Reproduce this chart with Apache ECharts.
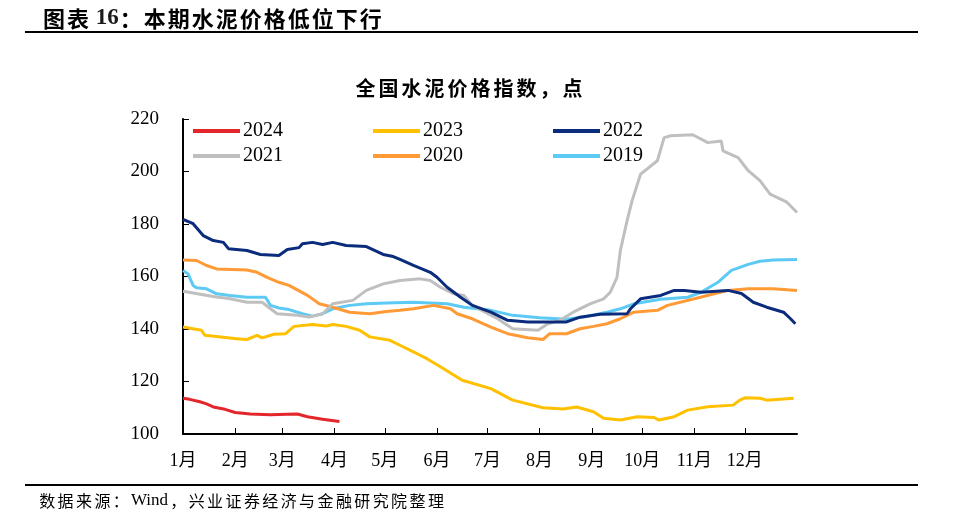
<!DOCTYPE html>
<html><head><meta charset="utf-8">
<script src="https://cdn.jsdelivr.net/npm/echarts@6/dist/echarts.min.js"></script>
<style>html,body{margin:0;padding:0;background:#fff}#c{width:972px;height:522px}</style>
</head><body><div id="c"></div>
<script>
// x = day of year, y = index value
const monthStarts = [0,31,59,90,120,151,181,212,243,273,304,334];
const monthLabels = ['1月','2月','3月','4月','5月','6月','7月','8月','9月','10月','11月','12月'];
const yTicks = [100,120,140,160,180,200,220];

const s2024 = [[0,113.6],[4,113.2],[10,112.3],[14,111.5],[18,110.3],[25,109.4],[31,108.2],[40,107.6],[52,107.3],[62,107.5],[68,107.6],[74,106.6],[83,105.6],[93,104.8]];
const s2023 = [[0,140.8],[11,139.5],[13,137.6],[32,136.3],[38,136],[44,137.6],[47,136.6],[54,138],[61,138.2],[66,141],[77,141.7],[85,141.1],[89,141.7],[97,141],[105,139.5],[111,137],[123,135.7],[129,133.8],[137,131.3],[141,130],[145,128.7],[153,125.6],[166,120.5],[183,117.3],[196,112.9],[214,110],[226,109.5],[234,110.3],[244,108.5],[250,106],[260,105.3],[270,106.6],[280,106.3],[283,105.3],[292,106.6],[300,109.1],[312,110.4],[327,111],[331,112.9],[334,113.8],[343,113.6],[347,112.9],[363,113.6]];
const s2022 = [[0,181.8],[6,180.1],[12,175.6],[18,173.7],[24,173],[27,170.6],[38,169.9],[46,168.4],[57,168],[62,170.3],[69,171],[71,172.5],[77,173],[83,172.2],[89,173],[97,171.8],[109,171.4],[119,168.4],[125,167.6],[129,166.5],[137,164.2],[147,161.6],[151,159.7],[157,155.9],[165,152.1],[172,149],[183,146.4],[193,143.3],[205,142.7],[217,142.7],[228,142.7],[236,144.5],[248,145.6],[264,145.8],[266,147.7],[272,151.5],[284,152.8],[292,154.7],[298,154.7],[308,154],[324,154.7],[332,153.5],[339,150.2],[347,148.3],[357,146.4],[361,144],[364,142]];
const s2021 = [[0,154.4],[18,152.4],[28,151.5],[38,150.2],[47,150.2],[52,147.7],[56,145.8],[68,145.2],[75,144.6],[83,145.8],[89,149.6],[101,150.9],[109,154.7],[119,157.2],[129,158.5],[141,159.1],[147,158.5],[153,155.9],[161,153.4],[167,152.8],[172,149],[187,143.9],[196,140.1],[211,139.5],[217,142],[224,143.3],[232,146.4],[242,149.6],[250,151.5],[254,154],[258,159.7],[260,169.9],[264,181.3],[267,188.9],[272,199],[282,204.1],[286,212.9],[290,213.6],[303,214],[312,211],[320,211.6],[321,207.9],[330,205.3],[336,200.3],[343,196.5],[349,191.4],[359,188.3],[365,184.4]];
const s2020 = [[0,166.3],[8,166.1],[14,164.2],[20,162.9],[38,162.5],[44,161.6],[50,159.7],[57,157.8],[63,156.6],[74,152.8],[81,149.6],[89,148.3],[99,146.4],[111,145.8],[121,146.7],[129,147.1],[137,147.7],[149,149],[159,147.7],[163,145.8],[172,143.9],[183,140.7],[193,138.2],[205,136.7],[214,136],[218,138.2],[228,138.2],[236,140.1],[244,141],[252,142],[260,143.9],[268,146.4],[282,147.1],[288,149],[304,151.5],[324,154.7],[336,155.3],[351,155.3],[365,154.7]];
const s2019 = [[0,162.3],[3,161],[6,156.6],[8,155.7],[14,155.3],[20,153.4],[28,152.8],[38,152.1],[49,152.1],[52,149],[57,148],[63,147.4],[71,145.8],[77,144.9],[83,145.8],[89,147.7],[99,149],[109,149.6],[121,149.9],[137,150.2],[157,149.6],[167,148.3],[183,147.1],[196,145.2],[212,144.3],[228,143.7],[240,144.8],[252,146.4],[260,147.7],[268,149.6],[284,151.3],[300,152.1],[308,154],[318,157.8],[326,162.3],[336,164.6],[343,165.8],[351,166.3],[365,166.5]];

const names = ['2024','2023','2022','2021','2020','2019'];
const datas = [s2024,s2023,s2022,s2021,s2020,s2019];
const colors = ['#E3262B','#FFC000','#0B2C7C','#BFBFBF','#FF9A36','#5CCAF4'];

const serif = '"Liberation Serif","Times New Roman","Noto Sans CJK SC",serif';
const cjk = '"Noto Sans CJK SC",sans-serif';

// split text into per-character rich tokens (latin runs kept together) to imitate wide glyph spacing
function spaced(str){
  const out=[]; let buf='';
  for(const ch of str){
    if(/[A-Za-z0-9 ]/.test(ch)){ buf+=ch; continue; }
    if(buf){ out.push('{l|'+buf+'}'); buf=''; }
    out.push('{c|'+ch+'}');
  }
  if(buf) out.push('{l|'+buf+'}');
  return out.join('');
}

const chart = echarts.init(document.getElementById('c'));

const legendPos = [[193,121],[373,121],[553,121],[193,146],[373,146],[553,146]];
const legends = names.map((n,i)=>({
  data:[n], left:legendPos[i][0], top:legendPos[i][1], icon:'rect',
  itemWidth:47, itemHeight:4, itemGap:0, padding:0,
  textStyle:{fontFamily:serif, fontSize:20, color:'#000', padding:[0,0,0,-2]}
}));

chart.setOption({
  animation:false,
  title:[
    {text:spaced('图表 16：本期水泥价格低位下行'), left:37, top:2,
     textStyle:{rich:{
       c:{fontFamily:cjk, fontWeight:'bold', fontSize:22, color:'#000', padding:[0,1,0,1]},
       l:{fontFamily:'"Liberation Serif",serif', fontWeight:'bold', fontSize:23, color:'#1a1a1a', padding:[0,0,0,0]}
     }}},
    {text:spaced('全国水泥价格指数，点'), left:349, top:73,
     textStyle:{rich:{
       c:{fontFamily:cjk, fontWeight:'bold', fontSize:20, color:'#000', padding:[0,1.5,0,1.5]}
     }}},
    {text:spaced('数据来源：Wind，兴业证券经济与金融研究院整理'), left:33, top:487,
     textStyle:{rich:{
       c:{fontFamily:cjk, fontWeight:'normal', fontSize:16, color:'#000', padding:[0,1.2,0,1.2]},
       l:{fontFamily:'"Liberation Serif",serif', fontWeight:'normal', fontSize:17, color:'#000', padding:[0,1,0,1]}
     }}}
  ],
  graphic:[
    {type:'line', shape:{x1:25,y1:32,x2:918,y2:32}, style:{stroke:'#000', lineWidth:2}},
    {type:'line', shape:{x1:25,y1:485,x2:918,y2:485}, style:{stroke:'#000', lineWidth:2}}
  ],
  legend:legends,
  grid:{left:183, right:175, top:119, bottom:88},
  xAxis:{
    type:'value', min:0, max:365,
    axisLine:{lineStyle:{color:'#000', width:2}},
    axisTick:{inside:true, length:6, customValues:monthStarts, lineStyle:{color:'#000'}},
    axisLabel:{customValues:monthStarts, margin:18, fontFamily:serif, fontSize:18, color:'#000',
      formatter:(v)=>monthLabels[monthStarts.indexOf(Math.round(v))] || ''},
    splitLine:{show:false}
  },
  yAxis:{
    type:'value', min:100, max:220, interval:20,
    axisLine:{show:true, lineStyle:{color:'#000', width:2}},
    axisTick:{show:true, inside:true, length:6, lineStyle:{color:'#000'}},
    axisLabel:{margin:24, fontFamily:serif, fontSize:19, color:'#000'},
    splitLine:{show:false}
  },
  series:names.map((n,i)=>({
    name:n, type:'line', data:datas[i], symbol:'none', z: 10-i,
    lineStyle:{color:colors[i], width:3}, itemStyle:{color:colors[i]}
  }))
});
</script></body></html>
